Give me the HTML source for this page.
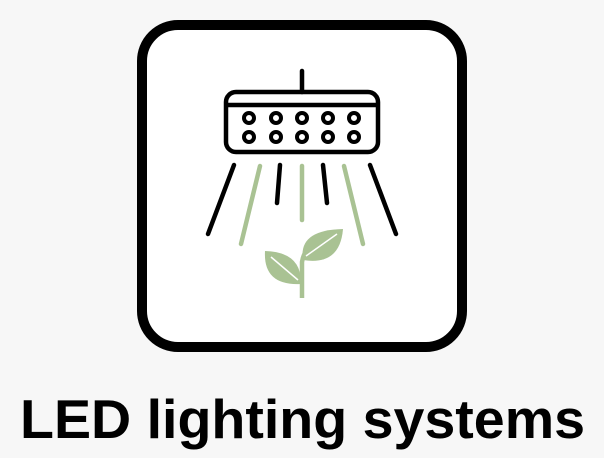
<!DOCTYPE html>
<html><head><style>
html,body{margin:0;padding:0;background:#f7f7f7;width:604px;height:458px;overflow:hidden}
</style></head><body>
<svg width="604" height="458" viewBox="0 0 604 458" xmlns="http://www.w3.org/2000/svg">
<rect x="0" y="0" width="604" height="458" fill="#f7f7f7"/>
<rect x="142" y="25" width="320" height="322" rx="36" fill="#fff" stroke="#000" stroke-width="10"/>
<g stroke="#000" stroke-width="4.5" fill="none" stroke-linecap="round">
<line x1="302" y1="71" x2="302" y2="92"/>
<rect x="226" y="92" width="152" height="60" rx="10"/>
<line x1="227" y1="105" x2="377" y2="105"/>
<g stroke-width="4">
<circle cx="249" cy="118" r="5"/><circle cx="276" cy="118" r="5"/><circle cx="302" cy="118" r="5"/><circle cx="328" cy="118" r="5"/><circle cx="354" cy="118" r="5"/>
<circle cx="249" cy="137" r="5"/><circle cx="276" cy="137" r="5"/><circle cx="302" cy="137" r="5"/><circle cx="328" cy="137" r="5"/><circle cx="354" cy="137" r="5"/>
</g>
<line x1="234" y1="165" x2="208" y2="234"/>
<line x1="280" y1="165" x2="277" y2="203"/>
<line x1="323" y1="165" x2="327" y2="203"/>
<line x1="370" y1="165" x2="396" y2="234"/>
</g>
<g stroke="#a9c293" stroke-width="4.5" stroke-linecap="round">
<line x1="260" y1="166" x2="241" y2="244"/>
<line x1="302" y1="166" x2="302" y2="220"/>
<line x1="344" y1="166" x2="363" y2="244"/>
</g>
<g fill="#a9c293">
<path d="M302 298 L302 262 Q304 250 312 246" stroke="#a9c293" stroke-width="4.5" fill="none"/>
<path d="M303 260 Q298 230 343 229 Q340 266 303 260 Z"/>
<path d="M301 284 Q302 252 265 251 Q263 286 301 284 Z"/>
</g>
<path d="M306 256 L337 234" stroke="#fff" stroke-width="1.5"/>
<path d="M298 280 L271 257" stroke="#fff" stroke-width="1.5"/>
<text x="20" y="438" font-family="Liberation Sans, sans-serif" font-weight="bold" font-size="55" textLength="565" lengthAdjust="spacingAndGlyphs" fill="#000">LED lighting systems</text>
</svg>
</body></html>
